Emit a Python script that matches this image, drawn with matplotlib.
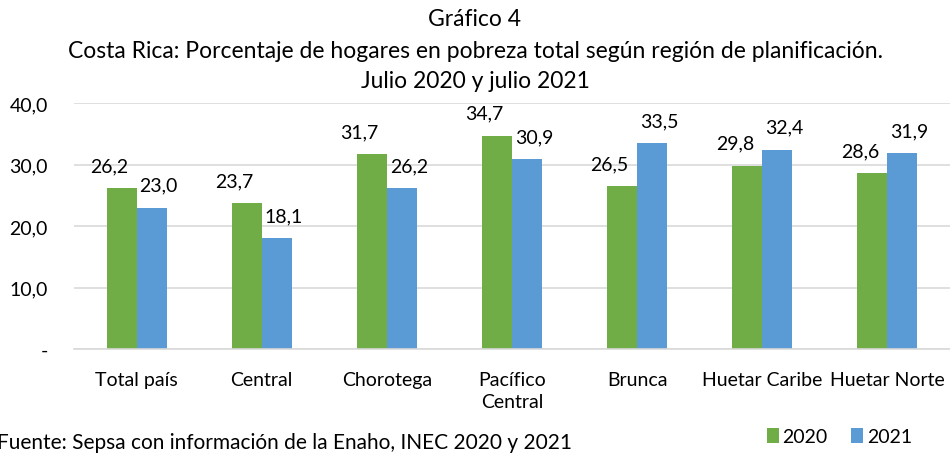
import numpy as np
import matplotlib.pyplot as plt

# data
regiones = ["Total país", "Central", "Chorotega", "Pacífico\nCentral",
            "Brunca", "Huetar Caribe", "Huetar Norte"]
v2020 = [26.2, 23.7, 31.7, 34.7, 26.5, 29.8, 28.6]
v2021 = [23.0, 18.1, 26.2, 30.9, 33.5, 32.4, 31.9]
yticks = [0, 10, 20, 30, 40]

GREEN = "#70ad47"
BLUE = "#5b9bd5"

plt.rcParams["font.family"] = ["Lato", "DejaVu Sans"]

fig = plt.figure(figsize=(9.5, 4.56), dpi=100)
ax = fig.add_axes([0.078, 0.232, 0.922, 0.540])

x = np.arange(len(regiones))
w = 0.24
b1 = ax.bar(x - w / 2, v2020, w, color=GREEN, label="2020")
b2 = ax.bar(x + w / 2, v2021, w, color=BLUE, label="2021")

def fmt(v):
    return f"{v:.1f}".replace(".", ",")

for rect, v in zip(b1, v2020):
    ax.annotate(fmt(v), (rect.get_x() + rect.get_width() / 2, v),
                xytext=(-9, 10), textcoords="offset points",
                ha="center", va="bottom", fontsize=14)
for rect, v in zip(b2, v2021):
    ax.annotate(fmt(v), (rect.get_x() + rect.get_width() / 2, v),
                xytext=(5, 10), textcoords="offset points",
                ha="center", va="bottom", fontsize=14)

ax.set_xlim(-0.5, len(regiones) - 0.5)
ax.set_ylim(0, 40)
ax.set_yticks(yticks)
ax.set_yticklabels(["-" if t == 0 else fmt(t) for t in yticks], fontsize=14)
ax.set_xticks(x)
ax.set_xticklabels(regiones, fontsize=14, linespacing=1.3)
ax.tick_params(axis="both", length=0)
ax.tick_params(axis="x", pad=16)
ax.tick_params(axis="y", pad=19)

ax.grid(axis="y", color="#d9d9d9", linewidth=1.2)
ax.set_axisbelow(True)
for s in ["top", "right", "left"]:
    ax.spines[s].set_visible(False)
ax.spines["bottom"].set_color("#d9d9d9")
ax.spines["bottom"].set_linewidth(1.2)

title_lines = ["Gráfico 4",
               "Costa Rica: Porcentaje de hogares en pobreza total según región de planificación.",
               "Julio 2020 y julio 2021"]
for yy, line in zip([0.958, 0.887, 0.822], title_lines):
    fig.text(0.5, yy, line, ha="center", va="center", fontsize=16.5)

fig.text(-0.003, 0.028, "Fuente: Sepsa con información de la Enaho, INEC 2020 y 2021",
         ha="left", va="center", fontsize=15)

fig.legend(loc="center right", bbox_to_anchor=(0.97, 0.04), ncol=2,
           frameon=False, fontsize=14, handlelength=0.6, handleheight=0.8,
           handletextpad=0.2, columnspacing=1.2, borderpad=0)

fig.savefig("out.png", dpi=100)
